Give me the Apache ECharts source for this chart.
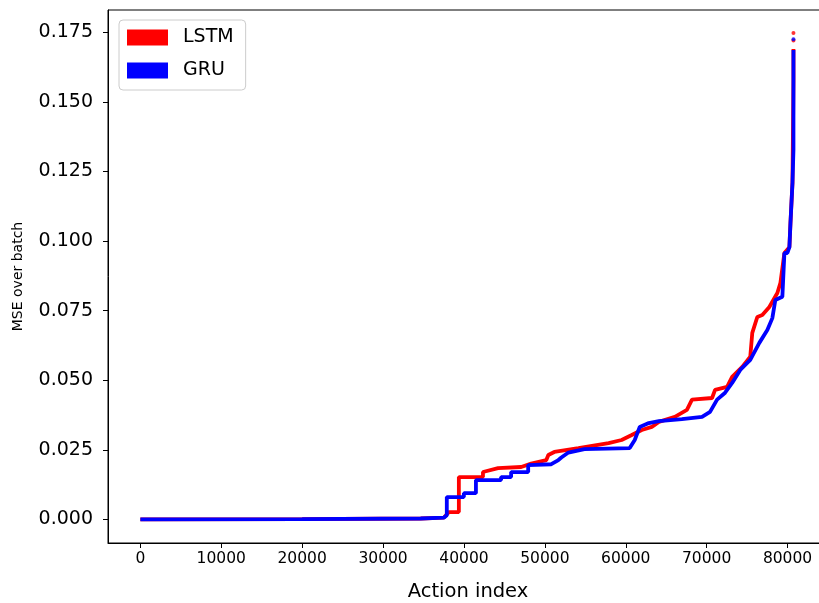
<!DOCTYPE html>
<html>
<head>
<meta charset="utf-8">
<title>echarts</title>
<script src="https://cdn.jsdelivr.net/npm/echarts@6/dist/echarts.min.js"></script>
<style>
  html, body { margin: 0; padding: 0; width: 100%; height: 100%; overflow: hidden; background: #fff; }
  #main { width: 819px; height: 603px; }
</style>
</head>
<body>
<div id="main"></div>
<script>
// sorted MSE per action as [action index, mse] breakpoints
var lstmPoints = [
  [0, 0], [20000, 0.0001], [34650, 0.0003], [37500, 0.0006], [38130, 0.0026], [39370, 0.0026],
  [39370, 0.0152], [42350, 0.0152], [42350, 0.0170], [44220, 0.0184], [47070, 0.0188],
  [48310, 0.0200], [50180, 0.0213], [50430, 0.0231], [51170, 0.0242], [54150, 0.0256],
  [57880, 0.0274], [59490, 0.0285], [60740, 0.0303], [61980, 0.0321], [63220, 0.0332],
  [64090, 0.0350], [66070, 0.0368], [67560, 0.0393], [68190, 0.0430], [70670, 0.0436],
  [71040, 0.0465], [72530, 0.0476], [73150, 0.0512], [74400, 0.0548], [75390, 0.0584],
  [75640, 0.0670], [76260, 0.0727], [76880, 0.0734], [77750, 0.0763], [78740, 0.0813],
  [79120, 0.0850], [79610, 0.0957], [80230, 0.0978], [80360, 0.1064], [80610, 0.1210],
  [80730, 0.1580], [80730, 0.1690]
];
var lstmOutliers = [[80730, 0.1747], [80730, 0.1720]];

var gruPoints = [
  [0, 0], [20000, 0.0001], [34650, 0.0003], [37500, 0.0006], [37880, 0.0015], [37880, 0.0080],
  [39990, 0.0080], [39990, 0.0094], [41480, 0.0094], [41480, 0.0141], [44590, 0.0141],
  [44590, 0.0152], [45830, 0.0152], [45830, 0.0170], [47940, 0.0170], [47940, 0.0195],
  [50800, 0.0198], [51670, 0.0213], [52040, 0.0222], [52910, 0.0240], [54900, 0.0252],
  [60490, 0.0256], [61110, 0.0285], [61730, 0.0332], [62850, 0.0346], [64090, 0.0353],
  [66940, 0.0360], [69430, 0.0368], [70420, 0.0386], [71290, 0.0430], [72280, 0.0455],
  [73150, 0.0490], [74150, 0.0537], [75390, 0.0573], [76510, 0.0634], [77500, 0.0680],
  [78120, 0.0723], [78490, 0.0788], [79360, 0.0800], [79610, 0.0957], [79980, 0.0957],
  [80230, 0.0978], [80360, 0.1064], [80610, 0.1210], [80730, 0.1327], [80730, 0.1686]
];
var gruOutliers = [[80730, 0.1725]];

var xTicks = [0, 10000, 20000, 30000, 40000, 50000, 60000, 70000, 80000];
var yTicks = [0, 0.025, 0.05, 0.075, 0.1, 0.125, 0.15, 0.175];

var font = 'DejaVu Sans';
var myChart = echarts.init(document.getElementById('main'), null, { renderer: 'canvas' });

myChart.setOption({
  animation: false,
  backgroundColor: '#fff',
  textStyle: { fontFamily: font },
  grid: {
    left: 108, top: 10, width: 720, height: 533,
    outerBoundsMode: 'none', containLabel: false,
    show: true, borderColor: '#000', borderWidth: 1, backgroundColor: 'transparent'
  },
  legend: {
    data: ['LSTM', 'GRU'],
    orient: 'vertical',
    left: 119, top: 20,
    icon: 'rect',
    itemWidth: 41, itemHeight: 16, itemGap: 14,
    padding: [8, 12, 10, 8],
    borderColor: '#cccccc', borderWidth: 1, borderRadius: 4,
    backgroundColor: 'rgba(255,255,255,0.8)',
    textStyle: { fontFamily: font, fontSize: 19, color: '#000', padding: [0, 0, 0, 10] }
  },
  xAxis: {
    type: 'value',
    min: -4000, max: 85000,
    name: 'Action index',
    nameLocation: 'middle',
    nameGap: 39,
    nameTextStyle: { fontFamily: font, fontSize: 19.5, color: '#000' },
    splitLine: { show: false },
    axisLine: { show: true, onZero: false, lineStyle: { color: '#000', width: 1 } },
    axisTick: { show: true, inside: false, length: 5, lineStyle: { color: '#000' }, customValues: xTicks },
    axisLabel: {
      fontFamily: font, fontSize: 15.5, color: '#000', margin: 8, customValues: xTicks,
      formatter: function (v) { return String(v); }
    }
  },
  yAxis: {
    type: 'value',
    min: -0.0085, max: 0.183,
    name: 'MSE over batch',
    nameLocation: 'middle',
    nameGap: 83,
    nameTextStyle: { fontFamily: font, fontSize: 14, color: '#000' },
    splitLine: { show: false },
    axisLine: { show: true, onZero: false, lineStyle: { color: '#000', width: 1 } },
    axisTick: { show: true, inside: false, length: 5, lineStyle: { color: '#000' }, customValues: yTicks },
    axisLabel: {
      fontFamily: font, fontSize: 19, color: '#000', margin: 15, customValues: yTicks,
      formatter: function (v) { return v.toFixed(3); }
    }
  },
  series: [
    {
      name: 'LSTM', type: 'line', data: lstmPoints, showSymbol: false,
      color: '#ff0000', lineStyle: { width: 3.8, color: '#ff0000' }
    },
    {
      name: 'LSTM', type: 'scatter', data: lstmOutliers, symbolSize: 4,
      itemStyle: { color: '#ff0000' }
    },
    {
      name: 'GRU', type: 'line', data: gruPoints, showSymbol: false,
      color: '#0000ff', lineStyle: { width: 3.8, color: '#0000ff' }
    },
    {
      name: 'GRU', type: 'scatter', data: gruOutliers, symbolSize: 4,
      itemStyle: { color: '#0000ff' }
    }
  ]
});
</script>
</body>
</html>
